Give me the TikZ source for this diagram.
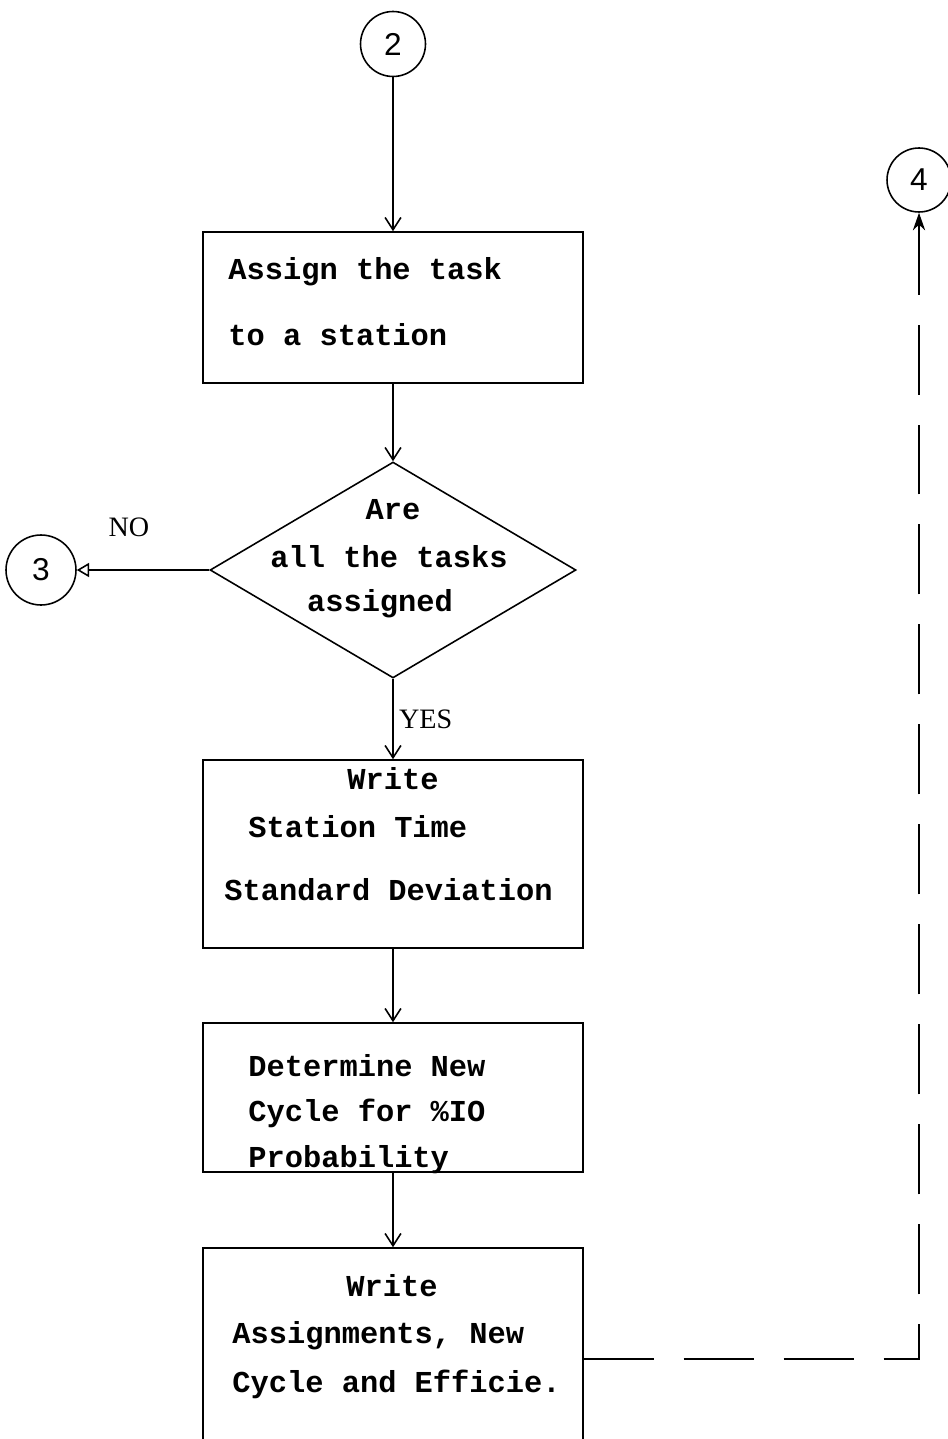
\documentclass[tikz,border=0pt]{standalone}
\usepackage{fontspec}
\setmainfont{Liberation Serif}
\setsansfont{Liberation Sans}
\setmonofont{Liberation Mono}
\usetikzlibrary{arrows.meta, positioning, shapes.geometric}

\begin{document}
\begin{tikzpicture}[
    x=0.02cm, y=-0.02cm,
    >={Straight Barb[length=7pt, width=9pt]},
    stepbox/.style={rectangle, draw, line width=0.9pt, minimum width=7.6cm, inner sep=0pt},
    decision/.style={diamond, draw, line width=0.9pt, minimum width=7.32cm, minimum height=4.32cm, inner sep=0pt},
    connector/.style={circle, draw, line width=0.9pt, inner sep=0pt, font=\sffamily\fontsize{18}{20}\selectfont},
    txt/.style={font=\ttfamily\bfseries\fontsize{17.3}{20}\selectfont, inner sep=0pt},
    lbl/.style={font=\rmfamily\fontsize{16}{18}\selectfont, inner sep=0pt},
    arrow/.style={->, line width=0.9pt}
]
\useasboundingbox (0,0) rectangle (947,1439);

% === Conectores ===
\node[connector, minimum size=1.3cm] (c2) at (393,44) {2};
\node[connector, minimum size=1.4cm] (c3) at (41,570) {3};
\node[connector, minimum size=1.28cm] (c4) at (919,180) {4};

% === Cajas ===
\node[stepbox, minimum height=3.02cm] (assign) at (393,307.5) {};
\node[decision] (alltasks) at (393,570) {};
\node[stepbox, minimum height=3.76cm] (writetime) at (393,854) {};
\node[stepbox, minimum height=2.98cm] (newcycle) at (393,1097.5) {};
\node[stepbox, minimum height=4.44cm] (finalout) at (393,1359) {};

% === Textos ===
\node[txt, anchor=west] (t1a) at (228,272) {Assign the task};
\node[txt, anchor=west] (t1b) at (228,335) {to a station};

\node[txt] (d1) at (393,510) {Are};
\node[txt] (d2) at (389,557) {all the tasks};
\node[txt] (d3) at (380,604) {assigned};

\node[txt] (t2a) at (393,779) {Write};
\node[txt, anchor=west] (t2b) at (248,827) {Station Time};
\node[txt, anchor=west] (t2c) at (224,890) {Standard Deviation};

\node[txt, anchor=west] (t3a) at (248,1066) {Determine New};
\node[txt, anchor=west] (t3b) at (248,1113) {Cycle for \%IO};
\node[txt, anchor=west] (t3c) at (248,1160) {Probability};

\node[txt] (t4a) at (392,1286) {Write};
\node[txt, anchor=west] (t4b) at (232,1336) {Assignments, New};
\node[txt, anchor=west] (t4c) at (232,1384) {Cycle and Efficie.};

% === Flechas ===
\draw[arrow] (c2) -- (assign);
\draw[arrow] (assign) -- (alltasks);
\draw[arrow, -{Triangle[open, length=7pt, width=8pt]}] (alltasks.west) -- (c3);
\node[lbl] (no) at (129,527) {NO};
\draw[arrow] (alltasks.south) -- node[lbl, right=3pt] (yes) {YES} (writetime);
\draw[arrow] (writetime) -- (newcycle);
\draw[arrow] (newcycle) -- (finalout);

% === Retorno ===
\draw[line width=0.9pt, dash pattern=on 1.4cm off 0.6cm, -{Stealth[length=10pt, width=7pt]}]
    (finalout.east) -| (c4.south);

\end{tikzpicture}
\end{document}
